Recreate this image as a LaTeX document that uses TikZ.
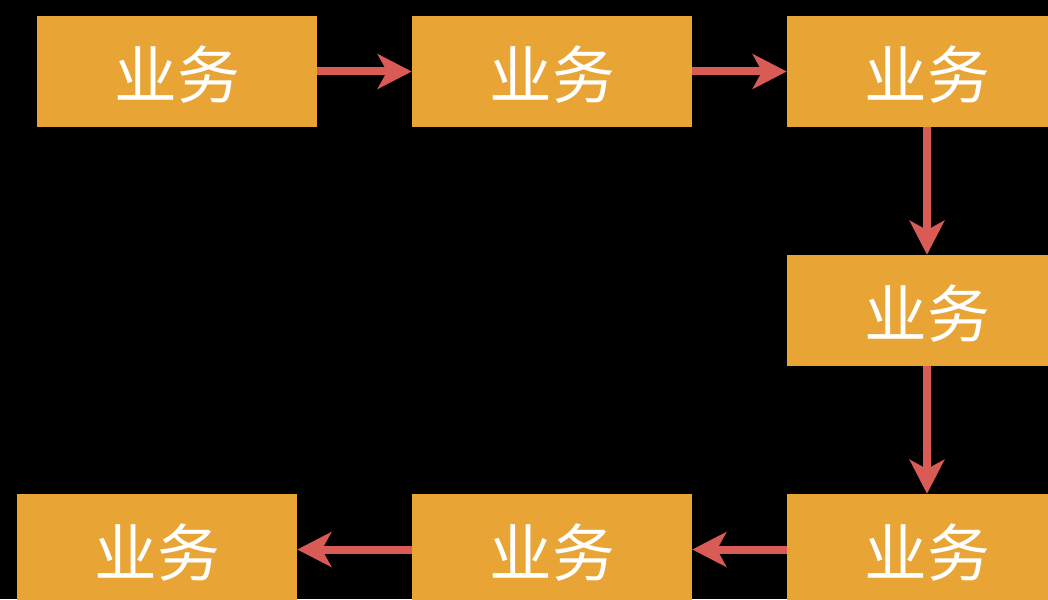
\documentclass[tikz,border=0pt]{standalone}
\usepackage{fontspec}
\newfontfamily\cjk{Noto Sans CJK SC}
\usetikzlibrary{arrows.meta}
\definecolor{boxorange}{HTML}{E8A535}
\definecolor{arrowred}{HTML}{D95B55}
\tikzstyle{task}=[fill=boxorange, minimum width=210pt, minimum height=83.25pt, inner sep=0,
  text=white, font=\cjk\fontsize{47}{52}\selectfont]
\tikzstyle{label}=[text=white, font=\cjk\fontsize{47}{52}\selectfont, yshift=-2pt]
\tikzstyle{flow}=[arrowred, line width=6pt, -{Stealth[length=25.5pt, width=26pt, inset=7pt]}]

\begin{document}
\begin{tikzpicture}[x=0.75pt, y=-0.75pt]
    \fill[black] (0,0) rectangle (1048,599);
    \useasboundingbox (0,0) rectangle (1048,599);
    \clip (0,0) rectangle (1048,599);
% Tasks
    \node[task] (t1) at (177,71.5) {};
    \node[task] (t2) at (552,71.5) {};
    \node[task] (t3) at (927,71.5) {};
    \node[task] (t4) at (927,310.5) {};
    \node[task] (t5) at (927,549.5) {};
    \node[task] (t6) at (552,549.5) {};
    \node[task] (t7) at (157,549.5) {};
% Labels
    \foreach \t in {t1,t2,t3,t4,t5,t6,t7}
        \node[label] (\t-text) at (\t) {业务};
% Flow
    \draw[flow] (t1) -- (t2);
    \draw[flow] (t2) -- (t3);
    \draw[flow] (t3) -- (t4);
    \draw[flow] (t4) -- (t5);
    \draw[flow] (t5) -- (t6);
    \draw[flow] (t6) -- (t7);
\end{tikzpicture}
\end{document}
